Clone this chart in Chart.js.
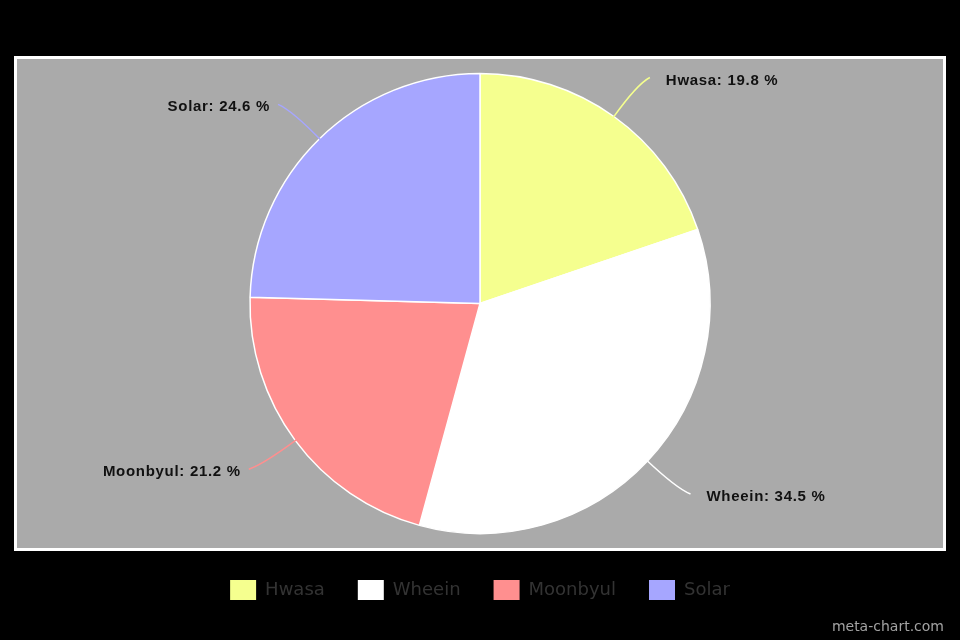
<!DOCTYPE html>
<html>
<head>
<meta charset="utf-8">
<script src="https://cdn.jsdelivr.net/npm/chart.js@4.4.1/dist/chart.umd.min.js"></script>
<style>
  html, body { margin: 0; padding: 0; background: #000; }
  #wrap { width: 960px; height: 640px; position: relative; }
</style>
</head>
<body>
<div id="wrap"><canvas id="c" width="960" height="640"></canvas></div>
<script>
const categories = ['Hwasa', 'Wheein', 'Moonbyul', 'Solar'];
const shares = [19.8, 34.5, 21.2, 24.6];
const sliceColors = ['#f5ff8f', '#ffffff', '#ff8f8f', '#a6a6ff'];
const watermark = 'meta-chart.com';

const framePlugin = {
  id: 'frame',
  beforeDraw(chart) {
    const ctx = chart.ctx;
    ctx.save();
    ctx.fillStyle = '#000000';
    ctx.fillRect(0, 0, chart.width, chart.height);
    ctx.fillStyle = '#ffffff';
    ctx.fillRect(14, 56, 932, 495);
    ctx.fillStyle = '#aaaaaa';
    ctx.fillRect(17, 59, 926, 489);
    ctx.restore();
  },
  afterDraw(chart) {
    const ctx = chart.ctx;
    ctx.save();
    ctx.font = '14px "DejaVu Sans"';
    ctx.fillStyle = '#a3a3a3';
    ctx.textAlign = 'right';
    ctx.textBaseline = 'middle';
    ctx.fillText(watermark, 944, 627);
    ctx.restore();
  }
};

const labelPlugin = {
  id: 'sliceLabels',
  afterDatasetsDraw(chart) {
    const ctx = chart.ctx;
    const meta = chart.getDatasetMeta(0);
    ctx.save();
    meta.data.forEach((arc, i) => {
      const p = arc.getProps(['x', 'y', 'startAngle', 'endAngle', 'outerRadius'], true);
      const mid = (p.startAngle + p.endAngle) / 2;
      const cos = Math.cos(mid), sin = Math.sin(mid);
      const r = p.outerRadius;
      const right = cos >= 0;
      const x0 = p.x + cos * (r - 2), y0 = p.y + sin * (r - 2);
      const cx = p.x + cos * (r + 40), cy = p.y + sin * (r + 40);
      const ex = p.x + cos * (r + 48) + (right ? 8 : -8);
      const ey = p.y + sin * (r + 48);
      ctx.strokeStyle = sliceColors[i];
      ctx.lineWidth = 1.5;
      ctx.beginPath();
      ctx.moveTo(x0, y0);
      ctx.quadraticCurveTo(cx, cy, ex, ey);
      ctx.stroke();
      ctx.font = 'bold 15px "Liberation Sans", Arial, sans-serif';
      if ('letterSpacing' in ctx) ctx.letterSpacing = '0.7px';
      ctx.fillStyle = '#111111';
      ctx.textBaseline = 'middle';
      ctx.textAlign = right ? 'left' : 'right';
      const txt = categories[i] + ': ' + shares[i] + ' %';
      ctx.fillText(txt, right ? ex + 16 : ex - 8, ey + 3);
      if ('letterSpacing' in ctx) ctx.letterSpacing = '0px';
    });
    ctx.restore();
  }
};

new Chart(document.getElementById('c'), {
  type: 'pie',
  data: {
    labels: categories,
    datasets: [{
      data: shares,
      backgroundColor: sliceColors,
      borderColor: '#ffffff',
      borderWidth: 1.5,
      radius: 230
    }]
  },
  options: {
    responsive: false,
    animation: false,
    events: [],
    layout: { padding: { top: 60, bottom: 30, left: 20, right: 20 } },
    plugins: {
      tooltip: { enabled: false },
      legend: {
        position: 'bottom',
        labels: {
          boxWidth: 26,
          boxHeight: 20,
          padding: 33,
          color: '#333333',
          font: { family: '"DejaVu Sans"', size: 18 },
          generateLabels(chart) {
            return categories.map((name, i) => ({
              text: name,
              fillStyle: sliceColors[i],
              strokeStyle: sliceColors[i],
              lineWidth: 0,
              fontColor: '#333333',
              hidden: false,
              index: i
            }));
          }
        }
      }
    }
  },
  plugins: [framePlugin, labelPlugin]
});
</script>
</body>
</html>
